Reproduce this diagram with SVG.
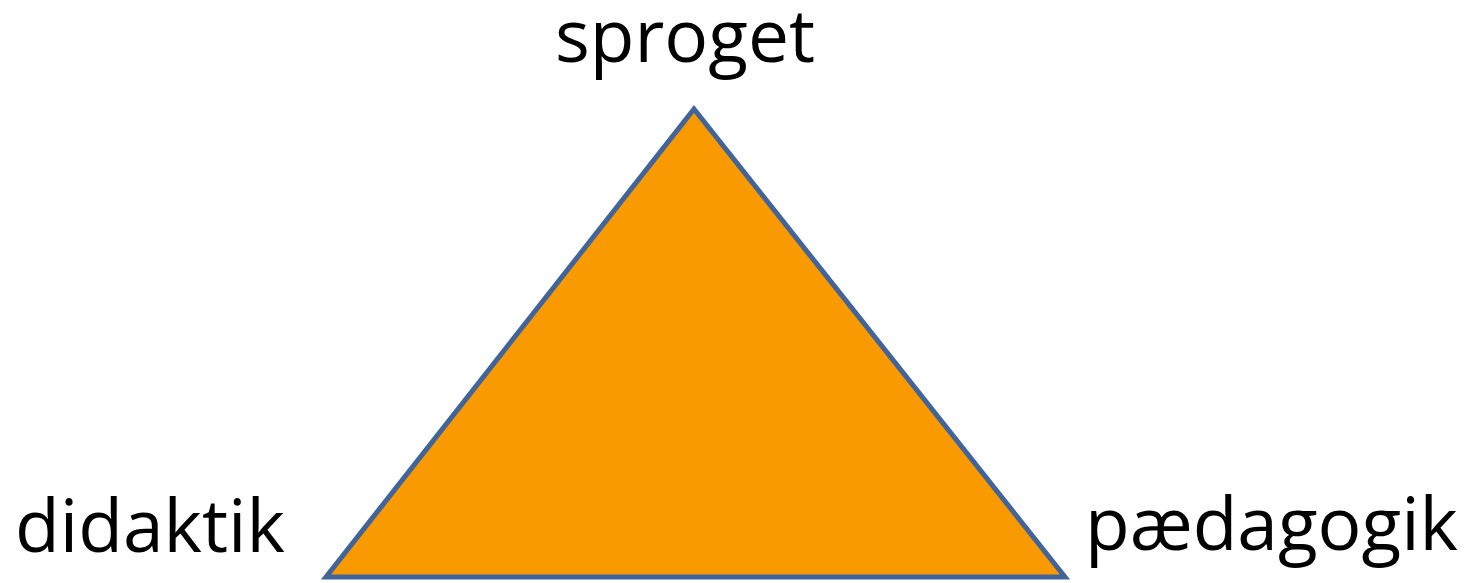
<svg xmlns="http://www.w3.org/2000/svg" width="1470" height="583" viewBox="0 0 1470 583">
<style>
.lbl{font-family:"Open Sans","Noto Sans","Liberation Sans",sans-serif;font-size:74px;fill:#000;}
.tri{fill:#F89A00;stroke:#41649B;stroke-width:5;stroke-linejoin:miter;}
</style>
<rect width="1470" height="583" fill="#fff"/>
<g id="triangle">
<polygon class="tri" points="694,109 326,577 1065,577"/>
</g>
<g id="connectors"></g>
<g id="node-sproget"><text class="lbl" x="555" y="62" textLength="260" lengthAdjust="spacingAndGlyphs">sproget</text></g>
<g id="node-didaktik"><text class="lbl" x="15" y="552" textLength="270" lengthAdjust="spacingAndGlyphs">didaktik</text></g>
<g id="node-paedagogik"><text class="lbl" x="1085" y="550" textLength="373" lengthAdjust="spacingAndGlyphs">pædagogik</text></g>
</svg>
